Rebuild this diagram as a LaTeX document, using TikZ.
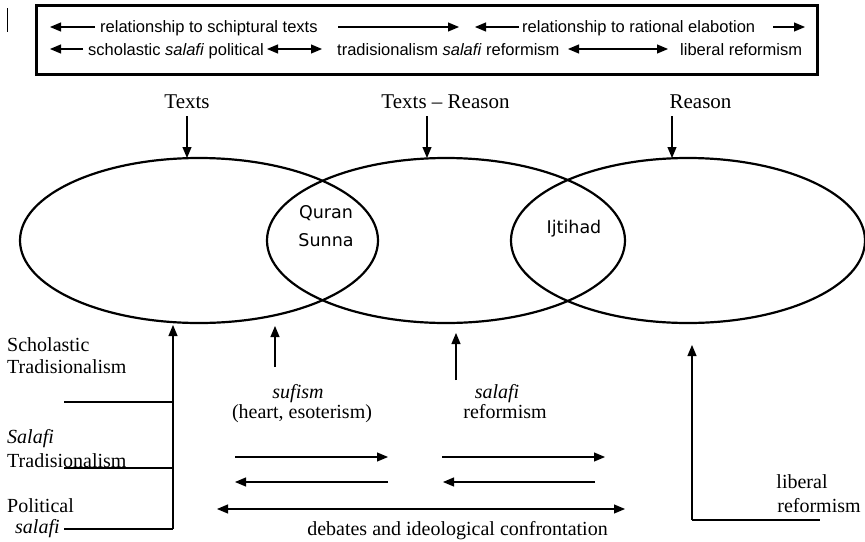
\documentclass[tikz,border=0pt]{standalone}
\usepackage{fontspec}
\setmainfont{Liberation Serif}
\newfontfamily\arialf{Liberation Sans}
\newfontfamily\dejaf{DejaVu Sans}
\usetikzlibrary{shapes.geometric,arrows.meta}
\begin{document}
\begin{tikzpicture}[x=1pt,y=-1pt,
  boxtxt/.style={font=\arialf\fontsize{16.5}{19}\selectfont, inner sep=0, anchor=base west},
  toplbl/.style={font=\fontsize{21}{24}\selectfont, inner sep=0, anchor=base},
  lbl/.style={font=\fontsize{20}{23}\selectfont, inner sep=0},
  innertxt/.style={font=\dejaf\fontsize{17.5}{20}\selectfont, inner sep=0, anchor=base},
  circ/.style={draw, ellipse, line width=2.2pt, minimum height=165pt, inner sep=0},
  arr/.style={-{Triangle[length=11pt,width=9pt]}, line width=1.1pt},
  darr/.style={{Triangle[length=11pt,width=9pt]}-{Triangle[length=11pt,width=9pt]}, line width=1.1pt},
  plainline/.style={line width=1.1pt}]
\useasboundingbox (0,0) rectangle (865,541);

% cursor bar
\coordinate (barA) at (7,8);
\coordinate (barB) at (7,32);
\draw[line width=1pt] (barA) -- (barB);

% legend box
\node[draw, line width=2.5pt, minimum width=781pt, minimum height=69pt, inner sep=0] (legend) at (427,40) {};
\coordinate (r1aS) at (95,27);  \coordinate (r1aE) at (50,27);
\draw[arr] (r1aS) -- (r1aE);
\node[boxtxt] (t1) at (100,32) {relationship to schiptural texts};
\coordinate (r1bS) at (338,27); \coordinate (r1bE) at (459,27);
\draw[arr] (r1bS) -- (r1bE);
\coordinate (r1cS) at (519,27); \coordinate (r1cE) at (475,27);
\draw[arr] (r1cS) -- (r1cE);
\node[boxtxt] (t2) at (522,32) {relationship to rational elabotion};
\coordinate (r1dS) at (773,27); \coordinate (r1dE) at (805,27);
\draw[arr] (r1dS) -- (r1dE);

\coordinate (r2aS) at (83,49); \coordinate (r2aE) at (50,49);
\draw[arr] (r2aS) -- (r2aE);
\node[boxtxt] (t3) at (88,55) {scholastic \textit{salafi} political};
\coordinate (r2bS) at (267,49); \coordinate (r2bE) at (322,49);
\draw[darr] (r2bS) -- (r2bE);
\node[boxtxt] (t4) at (337,55) {tradisionalism \textit{salafi} reformism};
\coordinate (r2cS) at (568,49); \coordinate (r2cE) at (668,49);
\draw[darr] (r2cS) -- (r2cE);
\node[boxtxt] (t5) at (680,55) {liberal reformism};

% ellipses
\node[circ, minimum width=358pt] (E1) at (199,240.5) {};
\node[circ, minimum width=358pt] (E2) at (446,240.5) {};
\node[circ, minimum width=354pt] (E3) at (688,240.5) {};

\node[innertxt] (quran) at (326,218) {Quran};
\node[innertxt] (sunna) at (326,246) {Sunna};
\node[innertxt] (ijt) at (574,233) {Ijtihad};

% top labels
\node[toplbl] (lT) at (187,108) {Texts};
\node[toplbl] (lTR) at (445.5,108) {Texts \textendash{} Reason};
\node[toplbl] (lR) at (700.5,108) {Reason};
\coordinate (aTs) at (187,116);   \coordinate (aTe) at (187,158);
\coordinate (aTRs) at (427,116);  \coordinate (aTRe) at (427,158);
\coordinate (aRs) at (672,116);   \coordinate (aRe) at (672,158);
\draw[arr] (aTs) -- (aTe);
\draw[arr] (aTRs) -- (aTRe);
\draw[arr] (aRs) -- (aRe);

% left labels
\node[lbl, anchor=base west] (sch1) at (7,351) {Scholastic};
\node[lbl, anchor=base west] (sch2) at (7,373) {Tradisionalism};
\node[lbl, anchor=base west] (sal1) at (7,443) {\textit{Salafi}};
\node[lbl, anchor=base west] (sal2) at (7,467) {Tradisionalism};
\node[lbl, anchor=base west] (pol1) at (7,512) {Political};
\node[lbl, anchor=base west] (pol2) at (15,533) {\textit{salafi}};

\coordinate (h1s) at (64,402); \coordinate (h1e) at (173,402);
\coordinate (h2s) at (64,468); \coordinate (h2e) at (173,468);
\coordinate (h3s) at (64,529); \coordinate (h3e) at (173,529);
\coordinate (vtop) at (173,325);
\draw[plainline] (h1s) -- (h1e);
\draw[plainline] (h2s) -- (h2e);
\draw[plainline] (h3s) -- (h3e);
\draw[arr] (h3e) -- (vtop);

% sufism
\coordinate (sufS) at (275,367); \coordinate (sufE) at (275,326);
\draw[arr] (sufS) -- (sufE);
\node[lbl, anchor=base] (suf1) at (298,398) {\textit{sufism}};
\node[lbl, anchor=base] (suf2) at (302,418) {(heart, esoterism)};

% salafi reformism
\coordinate (srS) at (456,380); \coordinate (srE) at (456,333);
\draw[arr] (srS) -- (srE);
\node[lbl, anchor=base] (sr1) at (497,398) {\textit{salafi}};
\node[lbl, anchor=base] (sr2) at (505,418) {reformism};

% exchange arrows
\coordinate (p1a) at (235,457); \coordinate (p1b) at (388,457);
\coordinate (p2a) at (388,482); \coordinate (p2b) at (235,482);
\coordinate (p3a) at (442,457); \coordinate (p3b) at (605,457);
\coordinate (p4a) at (595,482); \coordinate (p4b) at (443,482);
\draw[arr] (p1a) -- (p1b);
\draw[arr] (p2a) -- (p2b);
\draw[arr] (p3a) -- (p3b);
\draw[arr] (p4a) -- (p4b);

\coordinate (dbA) at (217,509); \coordinate (dbB) at (625,509);
\draw[darr] (dbA) -- (dbB);
\node[lbl, anchor=base] (deb) at (457.5,535) {debates and ideological confrontation};

% liberal reformism
\coordinate (lbS) at (692,520); \coordinate (lbE) at (692,345);
\coordinate (lbL) at (820,520);
\draw[arr] (lbS) -- (lbE);
\draw[plainline] (lbS) -- (lbL);
\node[lbl, anchor=base] (lib1) at (802,488) {liberal};
\node[lbl, anchor=base] (lib2) at (819,512) {reformism};
\end{tikzpicture}
\end{document}
